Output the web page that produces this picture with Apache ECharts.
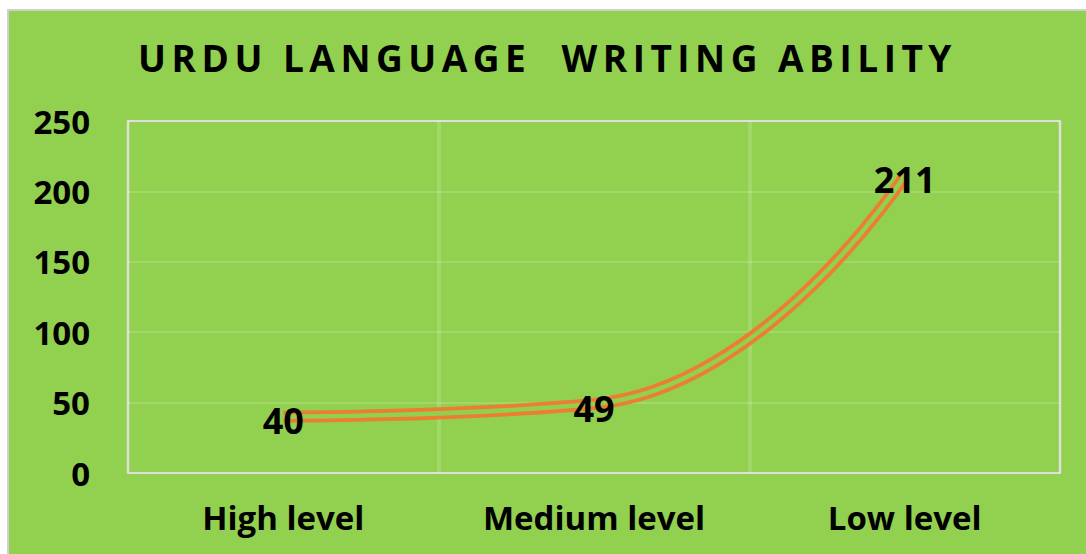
<!DOCTYPE html>
<html><head><meta charset="utf-8">
<script src="https://cdn.jsdelivr.net/npm/echarts@6/dist/echarts.min.js"></script>
<style>
html,body{margin:0;padding:0;background:#fff;width:1086px;height:554px;overflow:hidden;}
#chart{position:absolute;left:7px;top:9px;width:1077px;height:543px;border-left:2px solid #d0d0d0;border-top:2px solid #d0d0d0;}
#chart text[style*="37px"], #chart text[font-size="37px"], #chart text[font-size="37"]{letter-spacing:5.5px;}
</style></head>
<body><div id="chart"></div>
<script>
const titleText = 'URDU LANGUAGE  WRITING ABILITY';
const categories = ['High level', 'Medium level', 'Low level'];
const values = [40, 49, 211];
const yTicks = {min: 0, max: 250, interval: 50};

const font = '"Open Sans", "Liberation Sans", sans-serif';
const chart = echarts.init(document.getElementById('chart'), null, {renderer: 'svg'});
chart.setOption({
  backgroundColor: '#92D050',
  animation: false,
  title: {
    text: titleText, left: 'center', top: 23,
    textStyle: {fontFamily: font, fontWeight: 'bold', fontSize: 37, color: '#000'}
  },
  grid: {left: 119, right: 26, top: 110, bottom: 81, show: true, borderColor: '#d9d9d9', borderWidth: 2, backgroundColor: 'transparent'},
  xAxis: {
    type: 'category', data: categories, boundaryGap: true,
    axisLine: {show: false}, axisTick: {show: false},
    axisLabel: {fontFamily: font, fontWeight: 'bold', fontSize: 33, color: '#000', margin: 28},
    splitLine: {show: true, lineStyle: {color: 'rgba(255,255,255,0.15)', width: 4}}
  },
  yAxis: {
    type: 'value', min: yTicks.min, max: yTicks.max, interval: yTicks.interval,
    axisLine: {show: false}, axisTick: {show: false},
    axisLabel: {fontFamily: font, fontWeight: 'bold', fontSize: 33, color: '#000', margin: 38},
    splitLine: {lineStyle: {color: 'rgba(255,255,255,0.15)', width: 2}}
  },
  series: [
    {type: 'line', data: values, smooth: 0.5, symbol: 'none',
     lineStyle: {color: '#ED7D31', width: 12, cap: 'butt'}, z: 2},
    {type: 'line', data: values, smooth: 0.5, symbol: 'circle', symbolSize: 2,
     itemStyle: {color: 'rgba(0,0,0,0)', borderWidth: 0},
     lineStyle: {color: '#92D050', width: 4.5, cap: 'butt'}, z: 3,
     label: {show: true, position: 'inside', offset: [0, 4], fontFamily: font, fontWeight: 'bold', fontSize: 36, color: '#000'}}
  ]
});
</script></body></html>
